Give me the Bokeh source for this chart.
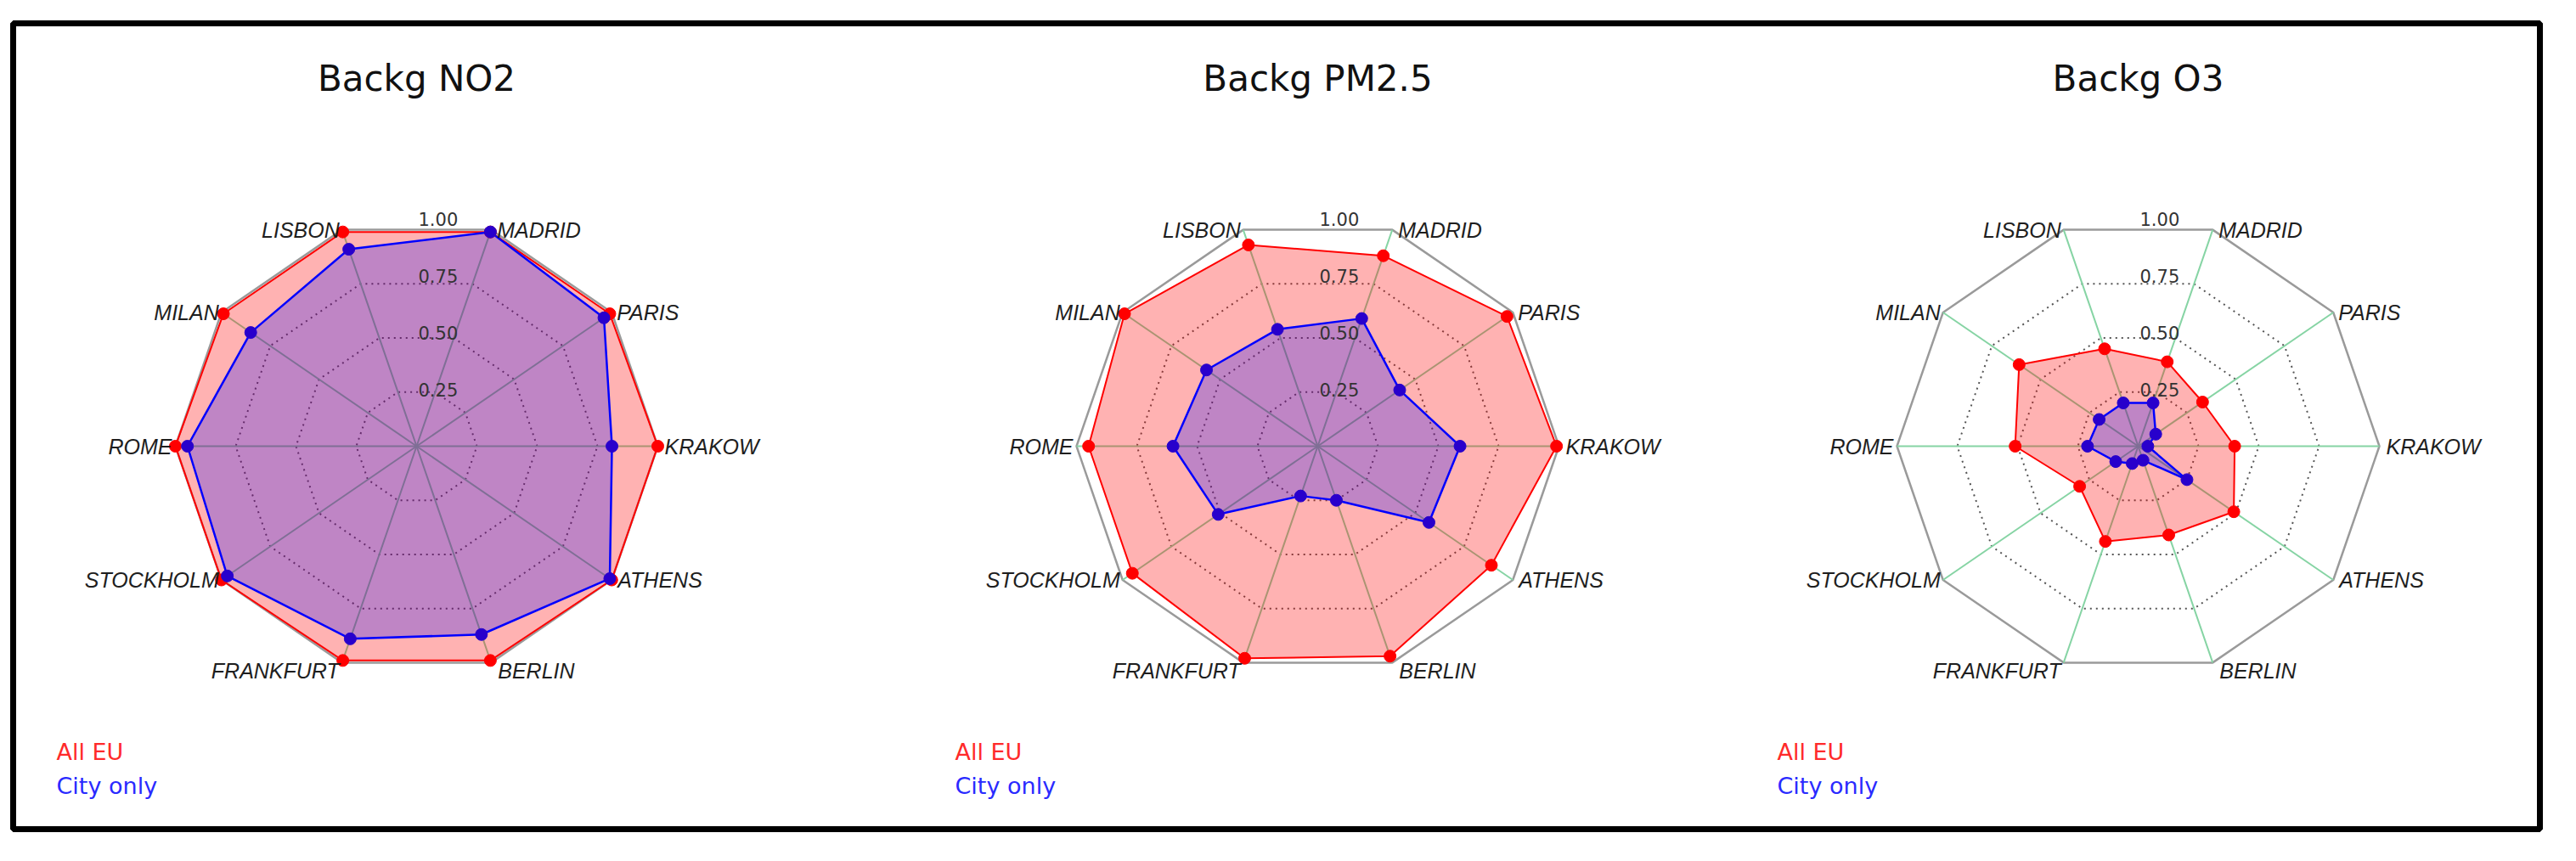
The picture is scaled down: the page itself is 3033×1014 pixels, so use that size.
import numpy as np
from bokeh.plotting import figure
from bokeh.models import Range1d, ColumnDataSource
from bokeh.core.properties import value
from bokeh.embed import file_html
from bokeh.resources import INLINE

# ---------------- data ----------------
cities = ["KRAKOW", "PARIS", "MADRID", "LISBON", "MILAN",
          "ROME", "STOCKHOLM", "FRANKFURT", "BERLIN", "ATHENS"]
titles = ["Backg NO2", "Backg PM2.5", "Backg O3"]
no2_all_eu = [1.00, 0.99, 0.99, 0.99, 0.99, 1.00, 1.00, 0.99, 0.99, 1.00]
no2_city = [0.81, 0.96, 0.99, 0.91, 0.85, 0.95, 0.97, 0.89, 0.87, 0.99]
pm25_all_eu = [0.99, 0.97, 0.88, 0.93, 0.99, 0.95, 0.95, 0.98, 0.97, 0.89]
pm25_city = [0.59, 0.42, 0.59, 0.54, 0.57, 0.60, 0.51, 0.23, 0.25, 0.57]
o3_all_eu = [0.40, 0.33, 0.39, 0.45, 0.61, 0.51, 0.30, 0.44, 0.41, 0.49]
o3_city = [0.04, 0.09, 0.20, 0.20, 0.20, 0.21, 0.115, 0.08, 0.065, 0.25]
tick_values = [0.25, 0.50, 0.75, 1.00]
tick_labels = ["0.25", "0.50", "0.75", "1.00"]
legend_labels = ["All EU", "City only"]

series = [(no2_all_eu, no2_city), (pm25_all_eu, pm25_city), (o3_all_eu, o3_city)]

# ---------------- layout ----------------
W, H = 3017, 998
centers = [(498, 533), (1559, 533), (2525, 533)]
legend_x = [74, 1132, 2100]
RX, RY = 284, 268
angles = np.deg2rad(np.arange(len(cities)) * 36.0)

RED = "#ff0000"
BLUE = "#0000ff"
BLUE_MARK = "#2800cc"
GREEN = "#86d4a4"

p = figure(width=W, height=H, output_backend="svg", toolbar_location=None,
           x_range=Range1d(8, 8 + W), y_range=Range1d(8 + H, 8),
           min_border=0, background_fill_color="white",
           border_fill_color="white")
p.axis.visible = False
p.grid.visible = False
p.outline_line_color = None


def polar(cx, cy, vals):
    v = np.asarray(vals, dtype=float)
    return cx + v * RX * np.cos(angles), cy - v * RY * np.sin(angles)


# outer black frame
p.quad(left=[23], right=[2998], top=[35], bottom=[984],
       fill_color=None, line_color="black", line_width=7)

# label placement per direction
lab_align = ["left", "left", "left", "right", "right",
             "right", "right", "right", "left", "left"]
lab_base = ["alphabetic", "alphabetic", "alphabetic", "alphabetic", "alphabetic",
            "alphabetic", "middle", "top", "top", "middle"]
lab_dx = [8, 6, 7, -3, -3, -4, -3, -3, 8, 7]
lab_dy = [0, 0, 0, 0, 0, 0, 0, -4, -4, 0]

for (cx, cy), title, (all_eu, city), lx in zip(centers, titles, series, legend_x):
    ones = np.ones(len(cities))
    # dotted rings
    for tv in tick_values[:-1]:
        gx, gy = polar(cx, cy, ones * tv)
        p.patch(list(gx), list(gy), fill_color=None, line_color="#555555",
                line_width=2, line_dash="2 5")
    # outer ring
    ox, oy = polar(cx, cy, ones)
    p.patch(list(ox), list(oy), fill_color=None, line_color="#9a9a9a",
            line_width=2.5)
    # spokes
    p.multi_line([[cx, x] for x in ox], [[cy, y] for y in oy],
                 line_color=GREEN, line_width=2)
    # All EU
    rx, ry = polar(cx, cy, all_eu)
    p.patch(list(rx), list(ry), fill_color=RED, fill_alpha=0.3,
            line_color=RED, line_width=2)
    # City only
    bx, by = polar(cx, cy, city)
    p.patch(list(bx), list(by), fill_color=BLUE, fill_alpha=0.25,
            line_color=BLUE, line_width=2.5)
    p.scatter(list(rx), list(ry), size=14, fill_color=RED, line_color=RED)
    p.scatter(list(bx), list(by), size=14, fill_color=BLUE_MARK,
              line_color=BLUE_MARK)
    # radial tick labels
    p.text(x=[cx + 2] * len(tick_values),
           y=[cy - tv * RY for tv in tick_values],
           text=tick_labels, text_font=value("DejaVu Sans"),
           text_font_size="21px", text_color="#333333",
           text_align="left", text_baseline="alphabetic")
    # category labels
    src = ColumnDataSource(dict(
        x=[x + d for x, d in zip(ox, lab_dx)],
        y=[y + d for y, d in zip(oy, lab_dy)],
        t=cities, a=lab_align, b=lab_base))
    p.text(x="x", y="y", text="t", text_align="a", text_baseline="b",
           source=src, text_font=value("Liberation Sans"),
           text_font_style="italic", text_font_size="25px",
           text_color="#1e1e1e")
    # title
    p.text(x=[cx], y=[100], text=[title], text_font=value("DejaVu Sans"),
           text_font_size="42px", text_color="#111111",
           text_align="center", text_baseline="alphabetic")
    # legend texts
    p.text(x=[lx], y=[893], text=[legend_labels[0]],
           text_font=value("DejaVu Sans"), text_font_size="27px",
           text_color="#ff2a2a", text_align="left",
           text_baseline="alphabetic")
    p.text(x=[lx], y=[933], text=[legend_labels[1]],
           text_font=value("DejaVu Sans"), text_font_size="27px",
           text_color="#2a2aff", text_align="left",
           text_baseline="alphabetic")

open("out.html", "w").write(file_html(p, INLINE))
